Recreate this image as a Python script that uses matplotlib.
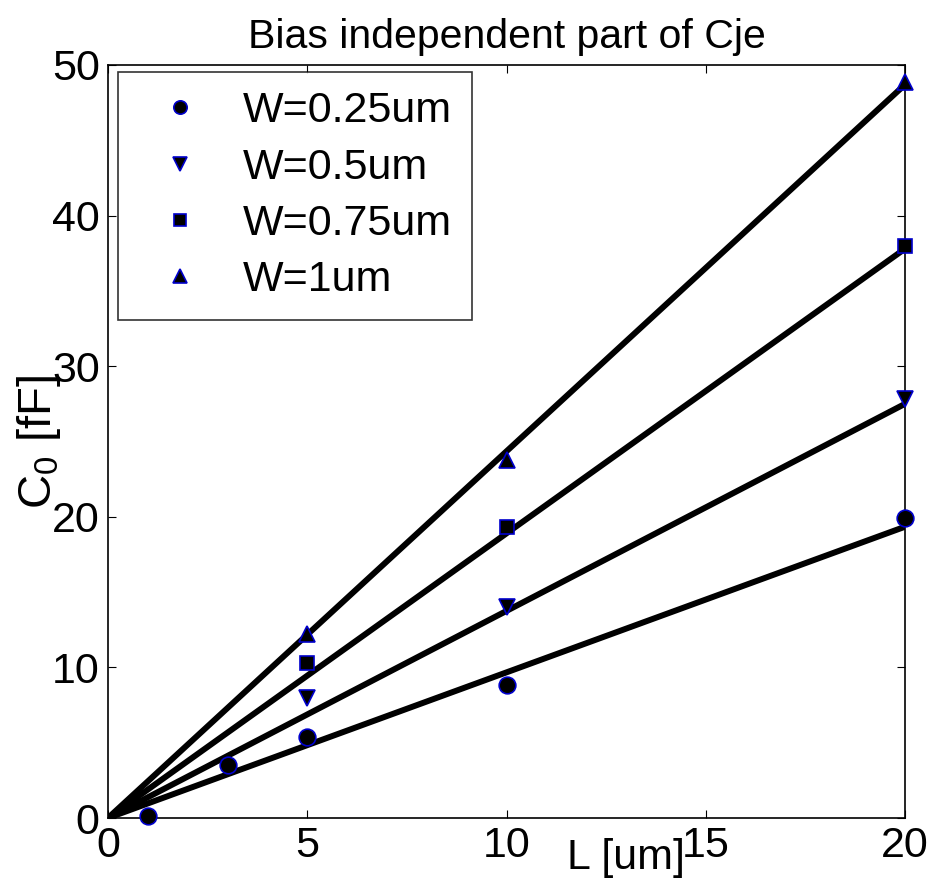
import matplotlib
matplotlib.use("Agg")
import matplotlib.pyplot as plt

plt.rcParams['font.family'] = ['Liberation Sans', 'DejaVu Sans']

# measured points, C0 [fF] vs L [um]
L_025 = [1, 3, 5, 10, 20]
C_025 = [0.1, 3.5, 5.4, 8.8, 19.9]
L_05 = [5, 10, 20]
C_05 = [8.0, 14.0, 27.8]
L_075 = [5, 10, 20]
C_075 = [10.3, 19.3, 38.0]
L_1 = [5, 10, 20]
C_1 = [12.2, 23.8, 48.9]

labels = ['W=0.25um', 'W=0.5um', 'W=0.75um', 'W=1um']
markers = ['o', 'v', 's', '^']
# fitted slopes [fF/um] for the lines through origin
slopes = [0.967, 1.375, 1.89, 2.435]
fitL = [0, 20]

fig = plt.figure(figsize=(9.33, 8.88), dpi=100)
ax = fig.add_axes([108/933, 1-818/888, (905-108)/933, (818-65)/888])

for s in slopes:
  ax.plot(fitL, [s*x for x in fitL], color='black', lw=4.3, zorder=2)

sets = [(L_025, C_025), (L_05, C_05), (L_075, C_075), (L_1, C_1)]
for (xs, ys), m, lab in zip(sets, markers, labels):
  ax.plot(xs, ys, linestyle='none', marker=m, markersize=12 if m != 's' else 10,
          markerfacecolor='black', markeredgecolor='#0000cc', markeredgewidth=1.2,
          label=lab, zorder=3, clip_on=False)

ax.set_xlim(0, 20)
ax.set_ylim(0, 50)
ax.set_xticks([0, 5, 10, 15, 20])
ax.set_yticks([0, 10, 20, 30, 40, 50])
ax.tick_params(direction='in', top=True, right=True, labelsize=31, length=6, pad=6)
for sp in ax.spines.values():
  sp.set_linewidth(1.2)

ax.set_title('Bias independent part of Cje', fontsize=29.5, pad=12)
ax.set_ylabel('C$_\\mathregular{0}$ [fF]', fontsize=34)
ax.yaxis.set_label_coords(-0.057, 0.5)
ax.set_xlabel('L [um]', fontsize=31)
ax.xaxis.set_label_coords(0.65, -0.026)

leg = ax.legend(loc='upper left', fontsize=31, frameon=True, fancybox=False,
                edgecolor='black', handlelength=1.96, handletextpad=0.5,
                borderpad=0.45, labelspacing=0.38, markerscale=0.8,
                borderaxespad=0, bbox_to_anchor=(0.0125, 0.9907))
leg.get_frame().set_linewidth(1.2)

fig.savefig('out.png', dpi=100)
